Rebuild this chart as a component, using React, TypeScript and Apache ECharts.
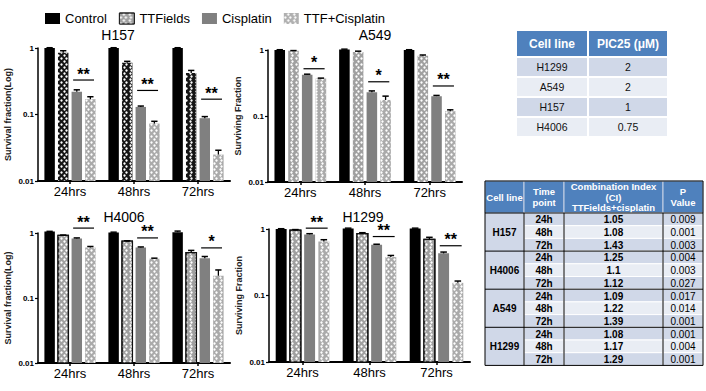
import React, { useEffect, useRef } from 'react';
import * as echarts from 'echarts';

const FONT = '"Liberation Sans", Arial, sans-serif';

const categories = ['24hrs', '48hrs', '72hrs'];
const seriesNames = ['Control', 'TTFields', 'Cisplatin', 'TTF+Cisplatin'];

// H157
const h157Control = [1, 1, 1];
const h157TTFields = [0.85, 0.6, 0.42];
const h157Cisplatin = [0.22, 0.13, 0.088];
const h157Combo = [0.17, 0.073, 0.025];
const h157ControlErr = [0.01, 0.01, 0.01];
const h157TTFieldsErr = [0.06, 0.03, 0.04];
const h157CisplatinErr = [0.015, 0.004, 0.005];
const h157ComboErr = [0.015, 0.006, 0.004];
const h157SigLevel = [0.33, 0.23, 0.17];
const h157Stars = ['**', '**', '**'];

// A549
const a549Control = [1, 1.02, 1];
const a549TTFields = [0.97, 0.93, 0.82];
const a549Cisplatin = [0.42, 0.23, 0.2];
const a549Combo = [0.37, 0.175, 0.118];
const a549ControlErr = [0.01, 0.01, 0.01];
const a549TTFieldsErr = [0.01, 0.03, 0.02];
const a549CisplatinErr = [0.01, 0.01, 0.005];
const a549ComboErr = [0.005, 0.025, 0.006];
const a549SigLevel = [0.52, 0.33, 0.285];
const a549Stars = ['*', '*', '**'];

// H4006
const h4006Control = [1.05, 1.02, 1.03];
const h4006TTFields = [0.92, 0.75, 0.5];
const h4006Cisplatin = [0.82, 0.6, 0.41];
const h4006Combo = [0.6, 0.4, 0.22];
const h4006ControlErr = [0.01, 0.01, 0.04];
const h4006TTFieldsErr = [0.01, 0.01, 0.04];
const h4006CisplatinErr = [0.02, 0.01, 0.025];
const h4006ComboErr = [0.02, 0.01, 0.05];
const h4006SigLevel = [1.19, 0.84, 0.59];
const h4006Stars = ['**', '**', '*'];

// H1299
const h1299Control = [1, 1.02, 1.02];
const h1299TTFields = [0.96, 0.85, 0.7];
const h1299Cisplatin = [0.83, 0.58, 0.43];
const h1299Combo = [0.65, 0.38, 0.155];
const h1299ControlErr = [0.01, 0.01, 0.01];
const h1299TTFieldsErr = [0.02, 0.03, 0.05];
const h1299CisplatinErr = [0.02, 0.01, 0.02];
const h1299ComboErr = [0.04, 0.02, 0.01];
const h1299SigLevel = [1.03, 0.77, 0.56];
const h1299Stars = ['**', '**', '**'];

// PIC25 table
const pic25Headers = ['Cell line', 'PIC25 (μM)'];
const pic25CellLines = ['H1299', 'A549', 'H157', 'H4006'];
const pic25Values = ['2', '2', '1', '0.75'];

// Combination index table
const ciHeaders = ['Cell line', 'Time\npoint', 'Combination Index\n(CI)\nTTFields+cisplatin', 'P\nValue'];
const ciCellLines = ['H157', 'H4006', 'A549', 'H1299'];
const ciTimePoints = ['24h', '48h', '72h'];
const ciValues = [
  ['1.05', '1.08', '1.43'],
  ['1.25', '1.1', '1.12'],
  ['1.09', '1.22', '1.39'],
  ['1.08', '1.17', '1.29'],
];
const ciPValues = [
  ['0.009', '0.001', '0.003'],
  ['0.004', '0.003', '0.027'],
  ['0.017', '0.014', '0.001'],
  ['0.001', '0.004', '0.001'],
];

const Y_MIN = 0.01;
const Y_MAX = 1;

const panels = [
  {
    title: 'H157', yName: 'Survival fraction(Log)',
    grid: { left: 38, top: 48, width: 192, height: 133 }, titlePos: [118, 35],
    values: [h157Control, h157TTFields, h157Cisplatin, h157Combo],
    errors: [h157ControlErr, h157TTFieldsErr, h157CisplatinErr, h157ComboErr],
    sig: h157SigLevel, stars: h157Stars, ttfDark: true, ttfBorder: false,
  },
  {
    title: 'A549', yName: 'Surviving Fraction',
    grid: { left: 268, top: 50, width: 194, height: 132 }, titlePos: [375, 35],
    values: [a549Control, a549TTFields, a549Cisplatin, a549Combo],
    errors: [a549ControlErr, a549TTFieldsErr, a549CisplatinErr, a549ComboErr],
    sig: a549SigLevel, stars: a549Stars, ttfDark: false, ttfBorder: false,
  },
  {
    title: 'H4006', yName: 'Survival fraction(Log)',
    grid: { left: 38, top: 233, width: 192, height: 130 }, titlePos: [124, 217],
    values: [h4006Control, h4006TTFields, h4006Cisplatin, h4006Combo],
    errors: [h4006ControlErr, h4006TTFieldsErr, h4006CisplatinErr, h4006ComboErr],
    sig: h4006SigLevel, stars: h4006Stars, ttfDark: false, ttfBorder: true,
  },
  {
    title: 'H1299', yName: 'Surviving Fraction',
    grid: { left: 269, top: 229, width: 201, height: 133 }, titlePos: [363, 217],
    values: [h1299Control, h1299TTFields, h1299Cisplatin, h1299Combo],
    errors: [h1299ControlErr, h1299TTFieldsErr, h1299CisplatinErr, h1299ComboErr],
    sig: h1299SigLevel, stars: h1299Stars, ttfDark: false, ttfBorder: true,
  },
];

const dotDecal = {
  symbol: 'circle',
  symbolSize: 0.8,
  color: '#ffffff',
  dashArrayX: [[3, 2], [0, 2.5, 3, 0]],
  dashArrayY: [2.5, 0],
  rotation: 0,
};

function seriesStyle(i: number, p: any): any {
  if (i === 0) return { fill: '#000000' };
  if (i === 1) {
    if (p.ttfDark) return { fill: '#151515', decal: dotDecal };
    return { fill: '#a0a0a0', decal: dotDecal, stroke: p.ttfBorder ? '#111' : null, lineWidth: p.ttfBorder ? 1.2 : 0 };
  }
  if (i === 2) return { fill: '#808080' };
  return { fill: '#aaaaaa', decal: dotDecal };
}

// bar geometry inside a category band (4 bars, 20% category gap, 30% bar gap)
function bandInfo(api: any, cat: number, v: number) {
  const p0 = api.coord([cat, v]);
  const other = cat > 0 ? cat - 1 : cat + 1;
  const p1 = api.coord([other, v]);
  const band = Math.abs(p1[0] - p0[0]);
  const bw = (band * 0.8) / 4.9;
  return { p0, bw };
}

function buildOption() {
  const grid: any[] = [];
  const xAxis: any[] = [];
  const yAxis: any[] = [];
  const series: any[] = [];
  const graphic: any[] = [];

  panels.forEach((p, pi) => {
    grid.push({ ...p.grid, containLabel: false });
    xAxis.push({
      type: 'category', gridIndex: pi, data: categories,
      axisLine: { lineStyle: { color: '#000', width: 2 } },
      axisTick: { show: true, alignWithLabel: true, length: 3, lineStyle: { color: '#000', width: 1.5 } },
      axisLabel: { color: '#000', fontSize: 13, fontFamily: FONT, margin: 4 },
    });
    yAxis.push({
      type: 'log', logBase: 10, gridIndex: pi, min: Y_MIN, max: Y_MAX,
      name: p.yName, nameLocation: 'middle', nameRotate: 90, nameGap: 26,
      nameTextStyle: { color: '#222', fontSize: 9, fontWeight: 'bold', fontFamily: FONT },
      axisLine: { show: true, lineStyle: { color: '#000', width: 1.5 } },
      axisTick: { show: true, length: 3, lineStyle: { color: '#000', width: 1.2 } },
      minorTick: { show: false },
      splitLine: { show: false },
      axisLabel: { color: '#000', fontSize: 8, fontWeight: 'bold', fontFamily: FONT, margin: 4 },
    });
    p.values.forEach((vals, i) => {
      const style = seriesStyle(i, p);
      const data = vals.map((v, c) => [c, v, p.errors[i][c]]);
      series.push({
        type: 'custom', name: seriesNames[i], xAxisIndex: pi, yAxisIndex: pi,
        data, clip: false, silent: true, z: 2 + i * 0.01,
        encode: { x: 0, y: 1 },
        itemStyle: { color: style.fill },
        renderItem: (params: any, api: any) => {
          const cat = api.value(0), v = api.value(1), e = api.value(2);
          const { p0, bw } = bandInfo(api, cat, v);
          const cx = p0[0] + (i - 1.5) * 1.3 * bw;
          const base = api.coord([cat, Y_MIN])[1];
          const top = api.coord([cat, v + e])[1];
          return {
            type: 'group',
            children: [
              {
                type: 'rect',
                shape: { x: cx - bw / 2, y: p0[1], width: bw, height: base - p0[1] },
                style: { ...style },
              },
              { type: 'line', shape: { x1: cx, y1: p0[1], x2: cx, y2: top }, style: { stroke: '#000', lineWidth: 1.3 } },
              { type: 'line', shape: { x1: cx - bw * 0.3, y1: top, x2: cx + bw * 0.3, y2: top }, style: { stroke: '#000', lineWidth: 1.5 } },
            ],
          };
        },
      });
    });
    const sigData = p.sig.map((v, c) => [c, v]);
    const stars = p.stars;
    series.push({
      type: 'custom', xAxisIndex: pi, yAxisIndex: pi, data: sigData, clip: false, silent: true, z: 6,
      encode: { x: 0, y: 1 },
      renderItem: (params: any, api: any) => {
        const cat = api.value(0), v = api.value(1);
        const { p0, bw } = bandInfo(api, cat, v);
        const xL = p0[0] + 0.65 * bw - 0.35 * bw;
        const xR = p0[0] + 1.95 * bw + 0.35 * bw;
        const y = p0[1];
        const s = stars[params.dataIndex];
        return {
          type: 'group',
          children: [
            { type: 'line', shape: { x1: xL, y1: y, x2: xR, y2: y }, style: { stroke: '#000', lineWidth: 1.2 } },
            {
              type: 'text', x: (xL + xR) / 2, y: y - 6,
              style: { text: s, fill: '#000', font: `bold 16px ${FONT}`, align: 'center', verticalAlign: 'middle' },
            },
          ],
        };
      },
    });
    graphic.push({
      type: 'text', x: p.titlePos[0], y: p.titlePos[1],
      style: { text: p.title, fill: '#000', font: `14px ${FONT}`, align: 'center', verticalAlign: 'middle' },
    });
  });

  // PIC25 table
  const t1X = [516, 588, 668];
  const t1HeadY = 30, t1HeadH = 27, t1RowY = 57, t1RowH = 20;
  for (let c = 0; c < 2; c++) {
    graphic.push({ type: 'rect', shape: { x: t1X[c], y: t1HeadY, width: t1X[c + 1] - t1X[c], height: t1HeadH }, style: { fill: '#4f81bd', stroke: '#fff', lineWidth: 2 } });
    graphic.push({ type: 'text', x: (t1X[c] + t1X[c + 1]) / 2, y: t1HeadY + t1HeadH / 2, style: { text: pic25Headers[c], fill: '#fff', font: `bold 12px ${FONT}`, align: 'center', verticalAlign: 'middle' } });
  }
  pic25CellLines.forEach((cl, r) => {
    const y = t1RowY + r * t1RowH;
    const fill = r % 2 === 0 ? '#d0d8e8' : '#e9edf4';
    const cells = [cl, pic25Values[r]];
    for (let c = 0; c < 2; c++) {
      graphic.push({ type: 'rect', shape: { x: t1X[c], y, width: t1X[c + 1] - t1X[c], height: t1RowH }, style: { fill, stroke: '#fff', lineWidth: 2 } });
      graphic.push({ type: 'text', x: (t1X[c] + t1X[c + 1]) / 2, y: y + t1RowH / 2, style: { text: cells[c], fill: '#111', font: `10.5px ${FONT}`, align: 'center', verticalAlign: 'middle' } });
    }
  });

  // CI table
  const t2X = [485, 524, 564, 663, 703];
  const t2HeadY = 181, t2HeadH = 32, t2RowH = 12.7;
  const t2RowY = t2HeadY + t2HeadH;
  for (let c = 0; c < 4; c++) {
    graphic.push({ type: 'rect', shape: { x: t2X[c], y: t2HeadY, width: t2X[c + 1] - t2X[c], height: t2HeadH }, style: { fill: '#4f81bd', stroke: '#c8d3e6', lineWidth: 1 } });
    graphic.push({ type: 'text', x: (t2X[c] + t2X[c + 1]) / 2, y: t2HeadY + t2HeadH / 2, style: { text: ciHeaders[c], fill: '#fff', font: `bold 9.5px ${FONT}`, lineHeight: 10.5, align: 'center', verticalAlign: 'middle' } });
  }
  ciCellLines.forEach((cl, g) => {
    const gy = t2RowY + g * 3 * t2RowH;
    graphic.push({ type: 'rect', shape: { x: t2X[0], y: gy, width: t2X[1] - t2X[0], height: 3 * t2RowH }, style: { fill: '#d0d8e8' } });
    graphic.push({ type: 'text', x: (t2X[0] + t2X[1]) / 2, y: gy + 1.5 * t2RowH, style: { text: cl, fill: '#000', font: `bold 10px ${FONT}`, align: 'center', verticalAlign: 'middle' } });
    ciTimePoints.forEach((tp, k) => {
      const y = gy + k * t2RowH;
      const fill = k === 1 ? '#e9edf4' : '#d0d8e8';
      const cells = [tp, ciValues[g][k], ciPValues[g][k]];
      const fonts = [`bold 10px ${FONT}`, `bold 10px ${FONT}`, `10px ${FONT}`];
      for (let c = 1; c < 4; c++) {
        graphic.push({ type: 'rect', shape: { x: t2X[c], y, width: t2X[c + 1] - t2X[c], height: t2RowH }, style: { fill, stroke: '#fff', lineWidth: 1 } });
        graphic.push({ type: 'text', x: (t2X[c] + t2X[c + 1]) / 2, y: y + t2RowH / 2 + 0.5, style: { text: cells[c - 1], fill: '#000', font: fonts[c - 1], align: 'center', verticalAlign: 'middle' } });
      }
    });
    graphic.push({ type: 'line', shape: { x1: t2X[0], y1: gy, x2: t2X[4], y2: gy }, style: { stroke: '#000', lineWidth: 1 } });
  });
  const t2Bottom = t2RowY + 12 * t2RowH;
  for (let c = 1; c < 4; c++) {
    graphic.push({ type: 'line', shape: { x1: t2X[c], y1: t2RowY, x2: t2X[c], y2: t2Bottom }, style: { stroke: '#000', lineWidth: 1 } });
  }
  graphic.push({ type: 'rect', shape: { x: t2X[0], y: t2HeadY, width: t2X[4] - t2X[0], height: t2Bottom - t2HeadY }, style: { fill: 'none', stroke: '#000', lineWidth: 1 } });

  return {
    animation: false,
    backgroundColor: '#ffffff',
    legend: {
      left: 40, top: 7, itemWidth: 15, itemHeight: 11, itemGap: 12,
      textStyle: { color: '#000', fontSize: 13, fontFamily: FONT },
      data: [
        { name: 'Control', icon: 'rect', itemStyle: { color: '#000' } },
        { name: 'TTFields', icon: 'rect', itemStyle: { color: '#a0a0a0', decal: dotDecal, borderColor: '#222', borderWidth: 1 } },
        { name: 'Cisplatin', icon: 'rect', itemStyle: { color: '#808080' } },
        { name: 'TTF+Cisplatin', icon: 'rect', itemStyle: { color: '#b0b0b0', decal: dotDecal } },
      ],
      selectedMode: false,
    },
    grid, xAxis, yAxis, series, graphic,
  };
}

export default function App() {
  const ref = useRef<HTMLDivElement>(null);
  useEffect(() => {
    if (!ref.current) return;
    const chart = echarts.init(ref.current, undefined, { renderer: 'svg' });
    chart.setOption(buildOption() as any);
    return () => chart.dispose();
  }, []);
  return <div ref={ref} style={{ position: 'absolute', left: 0, top: 0, width: 706, height: 391, background: '#fff' }} />;
}
